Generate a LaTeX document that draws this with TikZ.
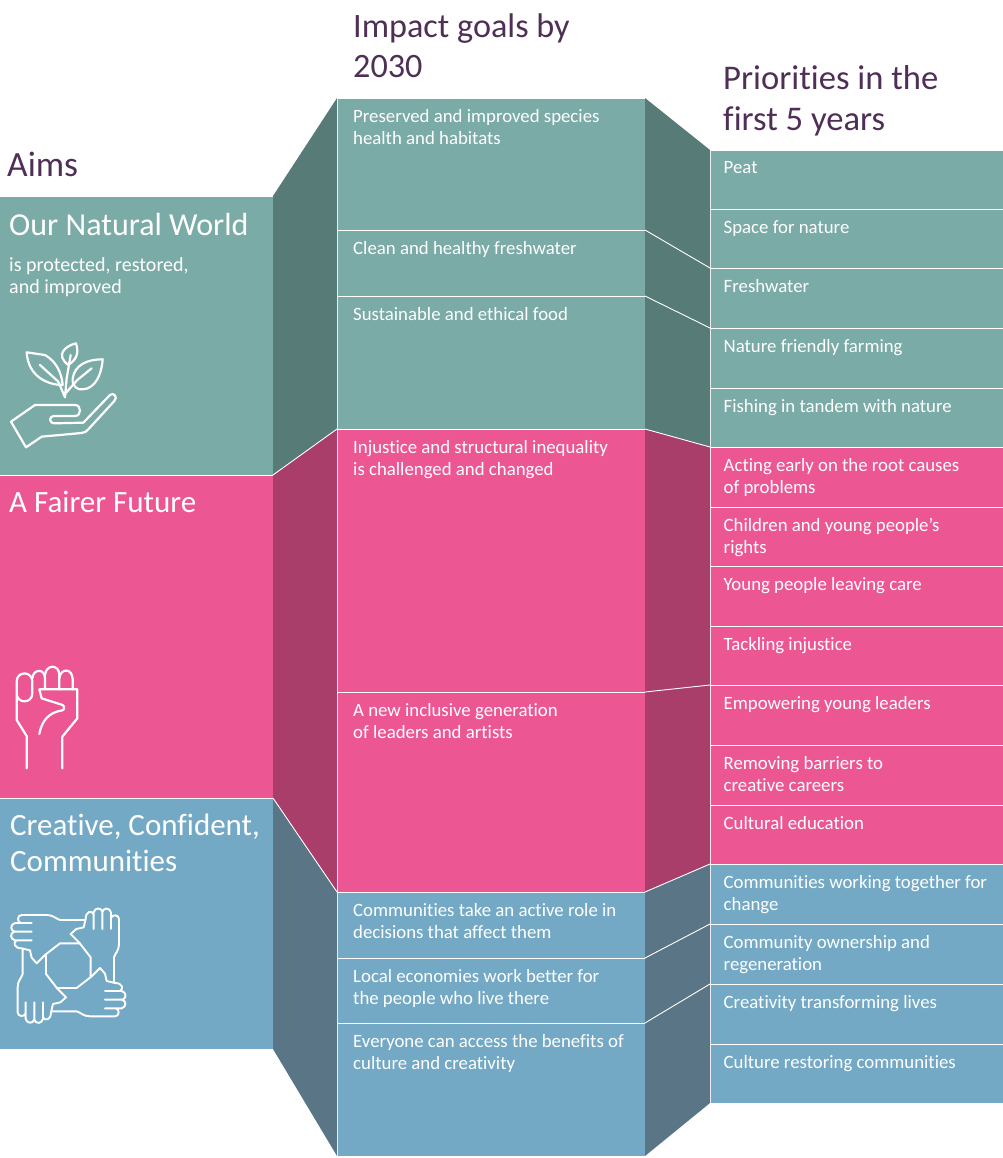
\documentclass[tikz,border=0pt]{standalone}
\usepackage{fontspec}
\setmainfont[Ligatures=NoCommon]{Carlito}
\definecolor{teal1}{HTML}{7BABA6}
\definecolor{teal2}{HTML}{577C78}
\definecolor{pink1}{HTML}{EC5793}
\definecolor{pink2}{HTML}{A83E69}
\definecolor{blue1}{HTML}{74A9C6}
\definecolor{blue2}{HTML}{5A7686}
\definecolor{head}{HTML}{4F2F55}
\tikzset{
  cellbox/.style={draw=white,line width=0.8pt,anchor=north west,inner sep=0pt,outer sep=0pt},
  bodytext/.style={text=white,anchor=north west,align=left,inner sep=0pt,font=\fontsize{18.8}{21.5}\selectfont},
  bigtext/.style={text=white,anchor=north west,align=left,inner sep=0pt,font=\fontsize{31}{36}\selectfont},
  headtext/.style={text=head,anchor=north west,align=left,inner sep=0pt,font=\fontsize{34.2}{40}\selectfont},
  sep/.style={draw=white,line width=0.9pt},
  icon/.style={draw=white,line width=2.2pt,line join=round,line cap=round},
  iconthin/.style={draw=white,line width=1.9pt,line join=round,line cap=round},
}
% name, x0, y0, y1, width, colour, text
\newcommand{\cellrow}[7]{%
  \ifnum#2=337 \def\txoff{16pt}\else\def\txoff{13.5pt}\fi
  \node[cellbox,fill=#6,minimum width=#5pt,minimum height={(#4-#3)*1pt}] (#1) at (#2,#3) {};
  \node[bodytext] (#1t) at ([xshift=\txoff,yshift=-11.5pt]#1.north west) {#7};
}
\begin{document}
\begin{tikzpicture}[x=1pt,y=-1pt]
\useasboundingbox (0,0) rectangle (1002,1158);
% middle column
\cellrow{ga}{337}{98}{230}{308}{teal1}{Preserved and improved species\\health and habitats}
\cellrow{gb}{337}{230}{296}{308}{teal1}{Clean and healthy freshwater}
\cellrow{gc}{337}{296}{429}{308}{teal1}{Sustainable and ethical food}
\cellrow{gd}{337}{429}{692}{308}{pink1}{Injustice and structural inequality\\is challenged and changed}
\cellrow{ge}{337}{692}{892}{308}{pink1}{A new inclusive generation\\of leaders and artists}
\cellrow{gf}{337}{892}{958}{308}{blue1}{Communities take an active role in\\decisions that affect them}
\cellrow{gg}{337}{958}{1023}{308}{blue1}{Local economies work better for\\the people who live there}
\cellrow{gh}{337}{1023}{1156}{308}{blue1}{Everyone can access the benefits of\\culture and creativity}
% right column
\cellrow{pa}{710}{150}{209}{296}{teal1}{Peat}
\cellrow{pb}{710}{209}{268}{296}{teal1}{Space for nature}
\cellrow{pc}{710}{268}{328}{296}{teal1}{Freshwater}
\cellrow{pd}{710}{328}{388}{296}{teal1}{Nature friendly farming}
\cellrow{pe}{710}{388}{447}{296}{teal1}{Fishing in tandem with nature}
\cellrow{pf}{710}{447}{507}{296}{pink1}{Acting early on the root causes\\of problems}
\cellrow{pg}{710}{507}{566}{296}{pink1}{Children and young people's\\rights}
\cellrow{ph}{710}{566}{626}{296}{pink1}{Young people leaving care}
\cellrow{pi}{710}{626}{685}{296}{pink1}{Tackling injustice}
\cellrow{pj}{710}{685}{745}{296}{pink1}{Empowering young leaders}
\cellrow{pk}{710}{745}{805}{296}{pink1}{Removing barriers to\\creative careers}
\cellrow{pl}{710}{805}{864}{296}{pink1}{Cultural education}
\cellrow{pm}{710}{864}{924}{296}{blue1}{Communities working together for\\change}
\cellrow{pn}{710}{924}{984}{296}{blue1}{Community ownership and\\regeneration}
\cellrow{po}{710}{984}{1044}{296}{blue1}{Creativity transforming lives}
\cellrow{pq}{710}{1044}{1103}{296}{blue1}{Culture restoring communities}
% left column
\node[cellbox,fill=teal1,minimum width=277pt,minimum height=279pt] (aa) at (-4,196) {};
\node[cellbox,fill=pink1,minimum width=277pt,minimum height=323pt] (ab) at (-4,475) {};
\node[cellbox,fill=blue1,minimum width=277pt,minimum height=251pt] (ac) at (-4,798) {};
% side panels
\fill[teal2] (aa.north east) -- (ga.north west) -- (gc.south west) -- (ab.north east) -- cycle;
\fill[pink2] (ab.north east) -- (gd.north west) -- (ge.south west) -- (ac.north east) -- cycle;
\fill[blue2] (ac.north east) -- (gf.north west) -- (gh.south west) -- (ac.south east) -- cycle;
\fill[teal2] (ga.north east) -- (pa.north west) -- (pe.south west) -- (gc.south east) -- cycle;
\fill[pink2] (gd.north east) -- (pf.north west) -- (pl.south west) -- (ge.south east) -- cycle;
\fill[blue2] (gf.north east) -- (pm.north west) -- (pq.south west) -- (gh.south east) -- cycle;
% connectors
\draw[sep] (gc.south west) -- (ab.north east);
\draw[sep] (ge.south west) -- (ac.north east);
\draw[sep] (ga.south east) -- (pb.south west);
\draw[sep] (gb.south east) -- (pc.south west);
\draw[sep] (gc.south east) -- (pe.south west);
\draw[sep] (gd.south east) -- (pi.south west);
\draw[sep] (ge.south east) -- (pl.south west);
\draw[sep] (gf.south east) -- (pm.south west);
\draw[sep] (gg.south east) -- (pn.south west);
% headings
\node[headtext,font=\fontsize{35.5}{40}\selectfont] (h1) at (7,152) {Aims};
\node[headtext] (h2) at (353,14) {Impact goals by\\2030};
\node[headtext,font=\fontsize{34.6}{41.5}\selectfont] (h3) at (723,65) {Priorities in the\\first 5 years};
% left texts
\node[bigtext,font=\fontsize{32}{36}\selectfont] (ta) at (9,213) {Our Natural World};
\node[bodytext,font=\fontsize{20}{22}\selectfont] (tb) at (9,257) {is protected, restored,\\and improved};
\node[bigtext] (tc) at (9,491) {A Fairer Future};
\node[bigtext] (td) at (10,814) {Creative, Confident,\\Communities};
% plant and hand
\begin{scope}[shift={(0,320)},x=0.3333pt,y=-0.3333pt]
\draw[icon] (33,305) -- (105,255) -- (225,255) .. controls (245,255) and (245,288) .. (225,288) -- (165,288) .. controls (145,288) and (145,310) .. (165,310) -- (250,308) -- (330,225) .. controls (340,215) and (355,232) .. (343,243) -- (265,328) .. controls (258,335) and (255,338) .. (245,339) -- (125,350) -- (78,382) -- cycle;
\draw[icon] (80,97) -- (135,105) .. controls (170,125) and (185,160) .. (188,195) .. controls (150,195) and (85,175) .. (80,97) -- cycle;
\draw[icon] (120,135) -- (175,185) -- (195,232) -- (200,175) -- (212,105);
\draw[icon] (228,70) .. controls (195,78) and (165,105) .. (205,135) .. controls (235,115) and (235,95) .. (228,70) -- cycle;
\draw[icon] (308,118) .. controls (260,118) and (225,135) .. (218,175) .. controls (215,200) and (235,212) .. (250,208) .. controls (285,205) and (305,165) .. (308,118) -- cycle;
\draw[icon] (275,145) -- (232,180) -- (195,222);
\end{scope}
% fist
\begin{scope}[shift={(0,650)},x=0.3333pt,y=-0.3333pt]
\draw[icon] (80,355) -- (80,258) -- (50,210) -- (50,95) .. controls (50,62) and (97,62) .. (97,95) -- (97,130) .. controls (97,162) and (50,162) .. (50,130);
\draw[icon] (97,85) .. controls (100,55) and (135,55) .. (135,85) -- (135,118);
\draw[icon] (135,75) .. controls (138,42) and (178,42) .. (178,75) -- (178,118);
\draw[icon] (178,85) .. controls (182,52) and (218,55) .. (218,88) -- (218,118);
\draw[icon] (118,118) -- (232,118) -- (232,205) -- (187,260) -- (187,355);
\draw[icon] (118,118) -- (125,145) -- (188,165) .. controls (197,172) and (192,182) .. (183,182) .. controls (150,187) and (125,210) .. (118,252);
\end{scope}
% joined hands
\begin{scope}[shift={(0,895)},x=0.3333pt,y=-0.3333pt]
\foreach \ang in {0,90,180,270}{
\begin{scope}[rotate around={\ang:(205,212)}]
\draw[iconthin] (255,75) -- (180,75) .. controls (165,70) and (160,60) .. (140,60) -- (65,60) .. controls (52,60) and (50,80) .. (62,84) -- (95,84) -- (45,84) .. controls (30,88) and (30,108) .. (45,110) -- (95,110) -- (42,110) .. controls (30,115) and (30,132) .. (45,136) -- (95,136) -- (50,136) .. controls (38,142) and (42,160) .. (65,160) -- (90,166) -- (95,188) -- (110,205) -- (135,180) -- (180,145) -- (240,145);
\end{scope}}
\end{scope}
\end{tikzpicture}
\end{document}
